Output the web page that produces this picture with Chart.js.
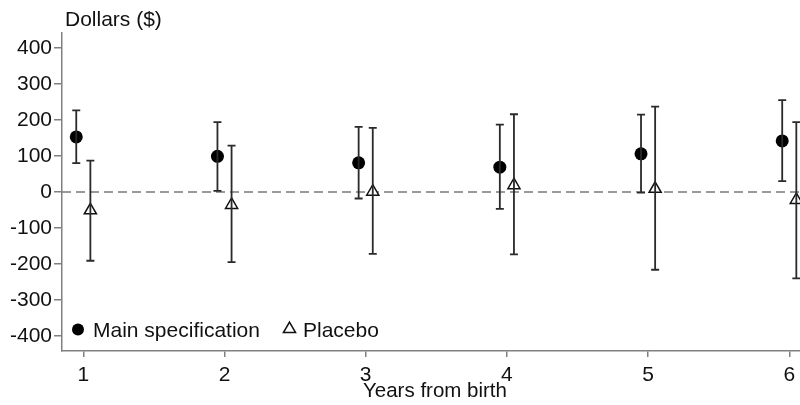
<!DOCTYPE html>
<html>
<head>
<meta charset="utf-8">
<script src="https://cdn.jsdelivr.net/npm/chart.js@4.4.1/dist/chart.umd.min.js"></script>
<style>
html,body{margin:0;padding:0;background:#fff;}
#wrap{width:800px;height:405px;position:relative;}
</style>
</head>
<body>
<div id="wrap"><canvas id="c" width="800" height="405"></canvas></div>
<script>
const years = [1, 2, 3, 4, 5, 6];
const xTickLabels = ['1', '2', '3', '4', '5', '6'];
const yTickValues = [-400, -300, -200, -100, 0, 100, 200, 300, 400];
const mainEst = [153, 99, 81, 69, 106, 142];
const mainLo = [80, 3, -18, -47, -2, 30];
const mainHi = [227, 194, 181, 187, 215, 255];
const placeboEst = [-51, -36, 1, 19, 9, -22];
const placeboLo = [-191, -195, -172, -173, -216, -240];
const placeboHi = [87, 129, 178, 216, 237, 194];
const seriesNames = ['Main specification', 'Placebo'];
const xOffset = 0.05;

const FONT = "'Liberation Sans', Arial, sans-serif";
const TEXT = '#111111';
const AXIS = '#808080';
const BAR = '#2a2a2a';

const mainPts = years.map((y, i) => ({x: y - xOffset, y: mainEst[i], lo: mainLo[i], hi: mainHi[i]}));
const placeboPts = years.map((y, i) => ({x: y + xOffset, y: placeboEst[i], lo: placeboLo[i], hi: placeboHi[i]}));

const extras = {
  id: 'extras',
  beforeDatasetsDraw(chart) {
    const {ctx, chartArea, scales} = chart;
    const y0 = scales.y.getPixelForValue(0);
    ctx.save();
    ctx.strokeStyle = '#7a7a7a';
    ctx.lineWidth = 1.4;
    ctx.setLineDash([9, 5]);
    ctx.beginPath();
    ctx.moveTo(chartArea.left, y0);
    ctx.lineTo(chartArea.right, y0);
    ctx.stroke();
    ctx.restore();
  },
  afterDatasetsDraw(chart) {
    const {ctx, scales} = chart;
    ctx.save();
    ctx.strokeStyle = BAR;
    ctx.lineWidth = 1.8;
    chart.data.datasets.forEach(ds => {
      ds.data.forEach(p => {
        const px = scales.x.getPixelForValue(p.x);
        const pl = scales.y.getPixelForValue(p.lo);
        const ph = scales.y.getPixelForValue(p.hi);
        ctx.beginPath();
        ctx.moveTo(px, pl); ctx.lineTo(px, ph);
        ctx.moveTo(px - 4, pl); ctx.lineTo(px + 4, pl);
        ctx.moveTo(px - 4, ph); ctx.lineTo(px + 4, ph);
        ctx.stroke();
      });
    });
    ctx.restore();
  },
  afterDraw(chart) {
    const {ctx} = chart;
    ctx.save();
    ctx.fillStyle = TEXT;
    ctx.font = '21px ' + FONT;
    ctx.textBaseline = 'alphabetic';
    ctx.textAlign = 'left';
    ctx.fillText('Dollars ($)', 65, 26);
    ctx.font = '20.5px ' + FONT;
    ctx.textAlign = 'center';
    ctx.fillText('Years from birth', 435, 397);
    ctx.font = '21px ' + FONT;
    ctx.textAlign = 'left';
    ctx.fillText(seriesNames[0], 93, 337);
    ctx.fillText(seriesNames[1], 303, 337);
    ctx.fillStyle = '#000';
    ctx.beginPath();
    ctx.arc(78, 329.5, 6, 0, Math.PI * 2);
    ctx.fill();
    ctx.strokeStyle = '#111';
    ctx.lineWidth = 1.5;
    ctx.beginPath();
    const tx = 289.5, ty = 329;
    const r = 7;
    ctx.moveTo(tx, ty - r);
    ctx.lineTo(tx + r * Math.sin(2 * Math.PI / 3), ty + r / 2);
    ctx.lineTo(tx - r * Math.sin(2 * Math.PI / 3), ty + r / 2);
    ctx.closePath();
    ctx.stroke();
    ctx.restore();
  }
};

new Chart(document.getElementById('c'), {
  type: 'scatter',
  data: {
    datasets: [
      {
        label: seriesNames[0],
        data: mainPts,
        pointStyle: 'circle',
        pointRadius: 6.5,
        pointHoverRadius: 6.5,
        backgroundColor: '#000',
        borderColor: '#000',
        borderWidth: 0
      },
      {
        label: seriesNames[1],
        data: placeboPts,
        pointStyle: 'triangle',
        pointRadius: 7,
        pointHoverRadius: 7,
        backgroundColor: '#fff',
        borderColor: '#111',
        borderWidth: 1.5
      }
    ]
  },
  options: {
    responsive: false,
    animation: false,
    devicePixelRatio: 1,
    layout: {autoPadding: false, padding: {top: 33, left: 0, right: 0, bottom: 0}},
    plugins: {legend: {display: false}, tooltip: {enabled: false}},
    scales: {
      x: {
        type: 'linear',
        min: 0.849,
        max: 6.076,
        afterBuildTicks: s => { s.ticks = years.map(v => ({value: v})); },
        afterFit: s => { s.height = 54; s.paddingLeft = 0; s.paddingRight = 0; },
        ticks: {
          callback: (v) => xTickLabels[years.indexOf(v)] ?? '',
          font: {family: FONT, size: 21},
          color: TEXT,
          padding: 6,
          maxRotation: 0
        },
        grid: {drawOnChartArea: false, drawTicks: true, tickLength: 6, color: AXIS, lineWidth: 1.5},
        border: {display: true, color: AXIS, width: 1.5}
      },
      y: {
        min: -441.7,
        max: 441.7,
        afterBuildTicks: s => { s.ticks = yTickValues.map(v => ({value: v})); },
        afterFit: s => { s.width = 62; s.paddingTop = 0; s.paddingBottom = 0; },
        ticks: {
          font: {family: FONT, size: 21},
          color: TEXT,
          padding: 2
        },
        grid: {drawOnChartArea: false, drawTicks: true, tickLength: 8, color: AXIS, lineWidth: 1.5},
        border: {display: true, color: AXIS, width: 1.5}
      }
    }
  },
  plugins: [extras]
});
</script>
</body>
</html>
